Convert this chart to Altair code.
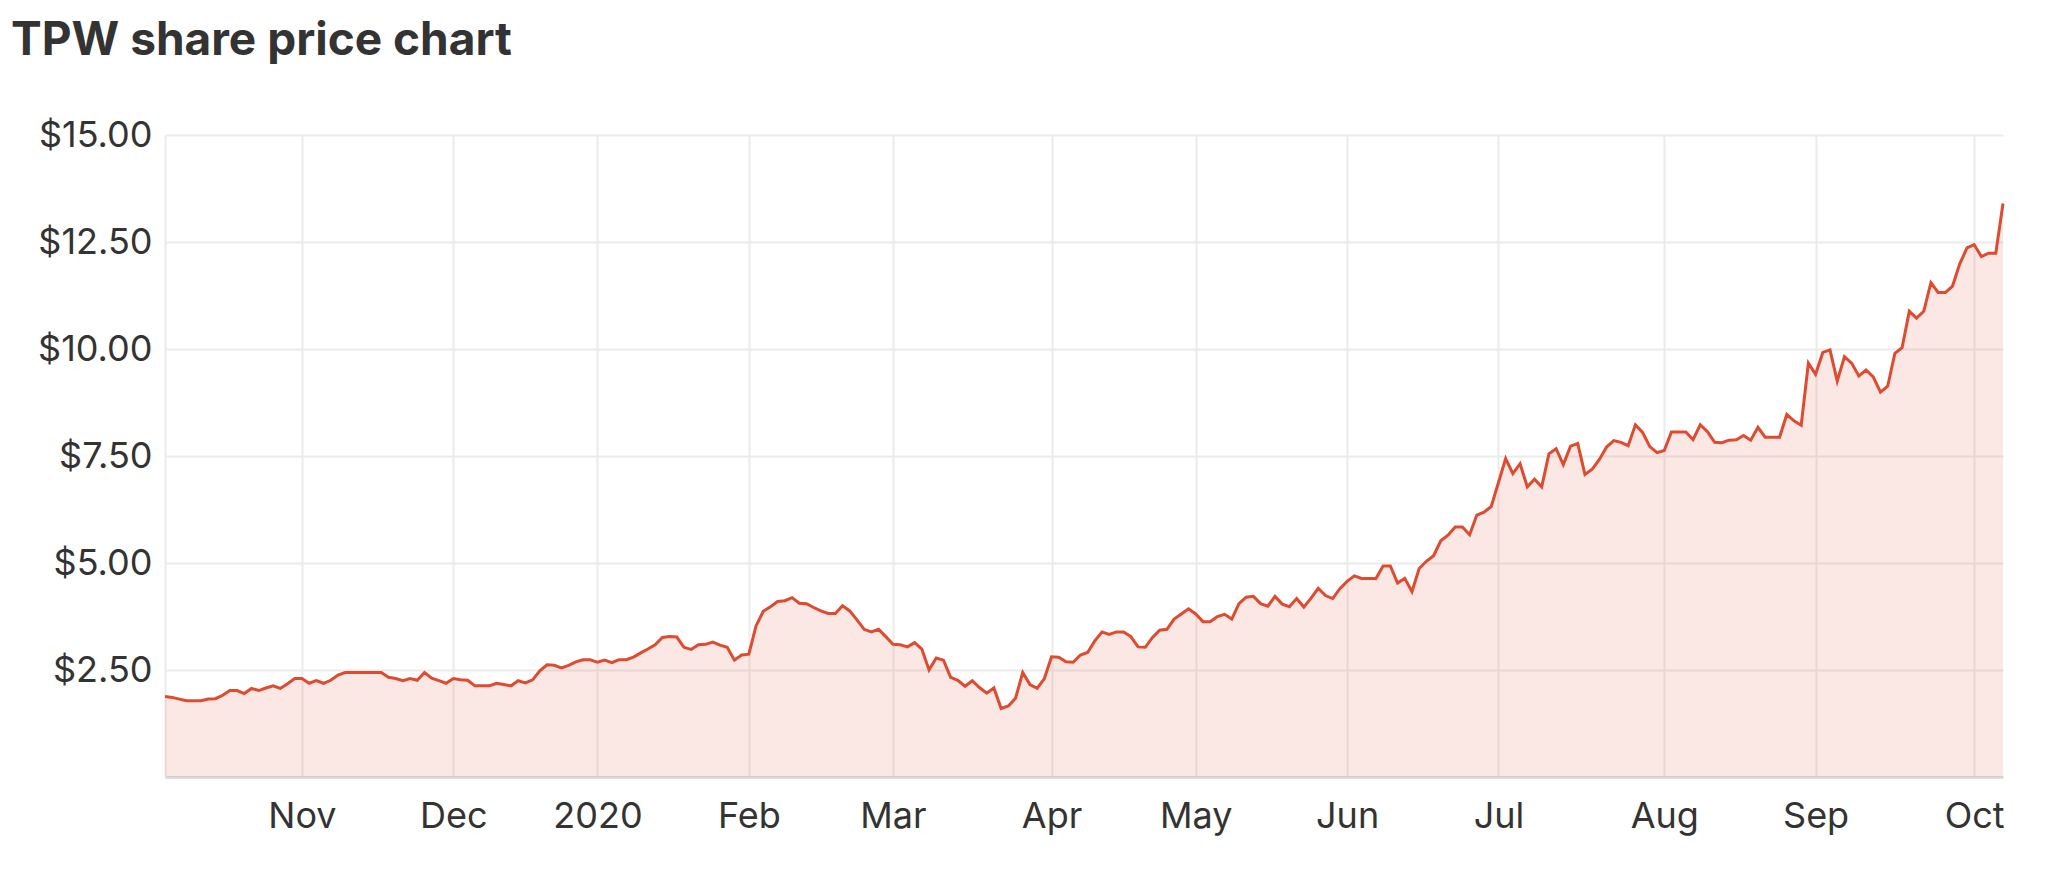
"""TPW share price chart: one year of daily closes, drawn as a filled line."""

import altair as alt
import pandas as pd

TITLE = "TPW share price chart"
LINE_COLOR = "#e04a2f"
TEXT_COLOR = "#333333"
FONT = "Inter"

# closing prices per ASX trading day, one list per month
oct_2019 = [1.88, 1.86, 1.82, 1.78, 1.78, 1.78, 1.82, 1.83, 1.91, 2.02,
            2.02, 1.95, 2.07, 2.02, 2.08, 2.13, 2.07, 2.18, 2.30]
nov_2019 = [2.30, 2.19, 2.25, 2.19, 2.26, 2.38, 2.44, 2.44, 2.44, 2.44,
            2.44, 2.44, 2.33, 2.30, 2.25, 2.30, 2.26, 2.44, 2.31, 2.25, 2.19]
dec_2019 = [2.30, 2.27, 2.26, 2.13, 2.13, 2.13, 2.19, 2.16, 2.13, 2.25,
            2.20, 2.27, 2.48, 2.62, 2.61, 2.55, 2.61, 2.69, 2.74, 2.74]
jan_2020 = [2.68, 2.73, 2.67, 2.74, 2.74, 2.80, 2.90, 2.99, 3.09, 3.26,
            3.28, 3.27, 3.03, 2.98, 3.09, 3.10, 3.15, 3.08, 3.03, 2.73, 2.85]
feb_2020 = [2.87, 3.53, 3.87, 3.98, 4.10, 4.12, 4.19, 4.06, 4.05, 3.96,
            3.88, 3.82, 3.82, 4.00, 3.88, 3.67, 3.45, 3.39, 3.45, 3.28]
mar_2020 = [3.10, 3.09, 3.04, 3.14, 2.99, 2.50, 2.78, 2.73, 2.33, 2.26,
            2.12, 2.25, 2.09, 1.96, 2.08, 1.60, 1.66, 1.84, 2.44, 2.16,
            2.07, 2.30]
apr_2020 = [2.81, 2.80, 2.69, 2.68, 2.85, 2.91, 3.18, 3.39, 3.33, 3.39,
            3.39, 3.28, 3.04, 3.03, 3.26, 3.43, 3.45, 3.69, 3.81, 3.93]
may_2020 = [3.81, 3.63, 3.63, 3.75, 3.80, 3.69, 4.05, 4.20, 4.22, 4.05,
            3.99, 4.22, 4.04, 3.98, 4.17, 3.97, 4.18, 4.41, 4.24, 4.17, 4.40]
jun_2020 = [4.57, 4.70, 4.64, 4.64, 4.64, 4.93, 4.93, 4.53, 4.64, 4.33,
            4.87, 5.04, 5.17, 5.52, 5.65, 5.84, 5.84, 5.66, 6.12, 6.19, 6.32]
jul_2020 = [6.88, 7.44, 7.09, 7.32, 6.78, 6.96, 6.78, 7.55, 7.67, 7.30,
            7.73, 7.79, 7.07, 7.19, 7.42, 7.71, 7.86, 7.82, 7.74, 8.23,
            8.05, 7.72, 7.58]
aug_2020 = [7.63, 8.06, 8.06, 8.06, 7.88, 8.23, 8.07, 7.82, 7.81, 7.87,
            7.88, 7.98, 7.87, 8.17, 7.94, 7.94, 7.94, 8.47, 8.32, 8.22, 9.67]
sep_2020 = [9.41, 9.92, 9.98, 9.25, 9.82, 9.67, 9.37, 9.51, 9.35, 8.99,
            9.13, 9.90, 10.03, 10.88, 10.72, 10.88, 11.55, 11.32, 11.32,
            11.47, 11.99, 12.36]
oct_2020 = [12.44, 12.16, 12.24, 12.24, 13.40]

MONTHS = [oct_2019, nov_2019, dec_2019, jan_2020, feb_2020, mar_2020,
          apr_2020, may_2020, jun_2020, jul_2020, aug_2020, sep_2020, oct_2020]
MONTH_LABELS = ["Oct", "Nov", "Dec", "2020", "Feb", "Mar", "Apr", "May",
                "Jun", "Jul", "Aug", "Sep", "Oct"]
Y_TICKS = [2.5, 5, 7.5, 10, 12.5, 15]

prices = [p for month in MONTHS for p in month]
df = pd.DataFrame({"day": range(len(prices)), "price": prices})

# x is the trading-day index; a tick sits on the first day of each month
month_starts = []
pos = 0
for month in MONTHS:
    month_starts.append(pos)
    pos += len(month)
tick_values = month_starts[1:]
tick_labels = MONTH_LABELS[1:]
label_expr = "{}[indexof({}, datum.value)]".format(
    "[" + ",".join("'%s'" % t for t in tick_labels) + "]",
    "[" + ",".join(str(v) for v in tick_values) + "]",
)

x_enc = alt.X(
    "day:Q",
    scale=alt.Scale(domain=[0, len(prices) - 1], nice=False, zero=False),
    axis=alt.Axis(
        values=tick_values,
        labelExpr=label_expr,
        labelFlush=False,
        labelPadding=22,
        domainColor="#d6d6d6",
        domainWidth=2.5,
    ),
).title(None)

y_enc = alt.Y(
    "price:Q",
    scale=alt.Scale(domain=[0, 15], nice=False),
    axis=alt.Axis(
        values=Y_TICKS,
        format="$.2f",
        labelPadding=13,
        domainColor="#ebebeb",
        domainWidth=2,
    ),
).title(None)

area = alt.Chart(df).mark_area(color=LINE_COLOR, opacity=0.13).encode(x=x_enc, y=y_enc)
line = alt.Chart(df).mark_line(color=LINE_COLOR, strokeWidth=3).encode(x=x_enc, y=y_enc)

chart = (
    (area + line)
    .properties(
        width=1838,
        height=642,
        autosize="none",
        padding={"left": 157, "top": 127, "right": 30, "bottom": 80},
        title=alt.Title(
            TITLE,
            anchor="start",
            frame="group",
            dx=-154,
            dy=-48,
            fontSize=46,
            fontWeight="bold",
            font=FONT,
            color=TEXT_COLOR,
        ),
    )
    .configure_axis(
        ticks=False,
        labelFont=FONT,
        labelFontSize=36,
        labelColor=TEXT_COLOR,
        gridColor="#ebebeb",
        gridWidth=2,
    )
    .configure_view(stroke=None)
)

chart.save("out.html", embed_options={"renderer": "svg", "actions": False})
